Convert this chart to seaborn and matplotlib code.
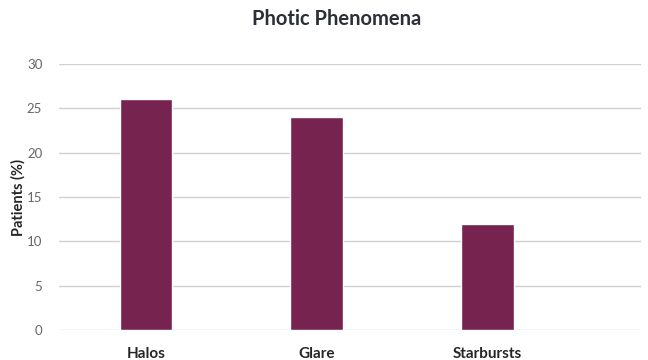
import matplotlib
matplotlib.use("Agg")
import matplotlib.pyplot as plt
import seaborn as sns
import pandas as pd

categories = ["Halos", "Glare", "Starbursts"]
patients_pct = [26, 24, 12]
y_ticks = [0, 5, 10, 15, 20, 25, 30]

df = pd.DataFrame({"Phenomenon": categories, "Patients": patients_pct})

sns.set_theme(style="white")
plt.rcParams["font.family"] = ["Lato", "DejaVu Sans"]

fig = plt.figure(figsize=(6.48, 3.6), dpi=100)
ax = fig.add_axes([0.091, 0.0833, 0.898, 0.7389])

sns.barplot(data=df, x="Phenomenon", y="Patients", color="#762350",
            saturation=1, width=0.31, ax=ax, zorder=3)

ax.set_ylim(0, 30)
ax.set_xlim(-0.51, 2.9)
ax.set_yticks(y_ticks)
ax.set_yticklabels([str(t) for t in y_ticks], color="#666666", fontsize=9.5)
ax.tick_params(axis="y", length=0, pad=12)
ax.tick_params(axis="x", length=0, pad=12)
for lbl in ax.get_xticklabels():
    lbl.set_fontweight("bold")
    lbl.set_fontsize(11)
    lbl.set_color("#262626")

ax.grid(axis="y", color="#d0d0d0", linewidth=1, zorder=0)
for s in ax.spines.values():
    s.set_visible(False)

ax.set_xlabel("")
ax.set_ylabel("Patients (%)", fontsize=10.5, fontweight="bold", color="#262626")
ax.yaxis.set_label_coords(-0.058, 0.5)

fig.text(0.52, 0.948, "Photic Phenomena", ha="center", va="center",
         fontsize=14.5, fontweight="bold", color="#2b2f36")

fig.savefig("out.png", dpi=100)
